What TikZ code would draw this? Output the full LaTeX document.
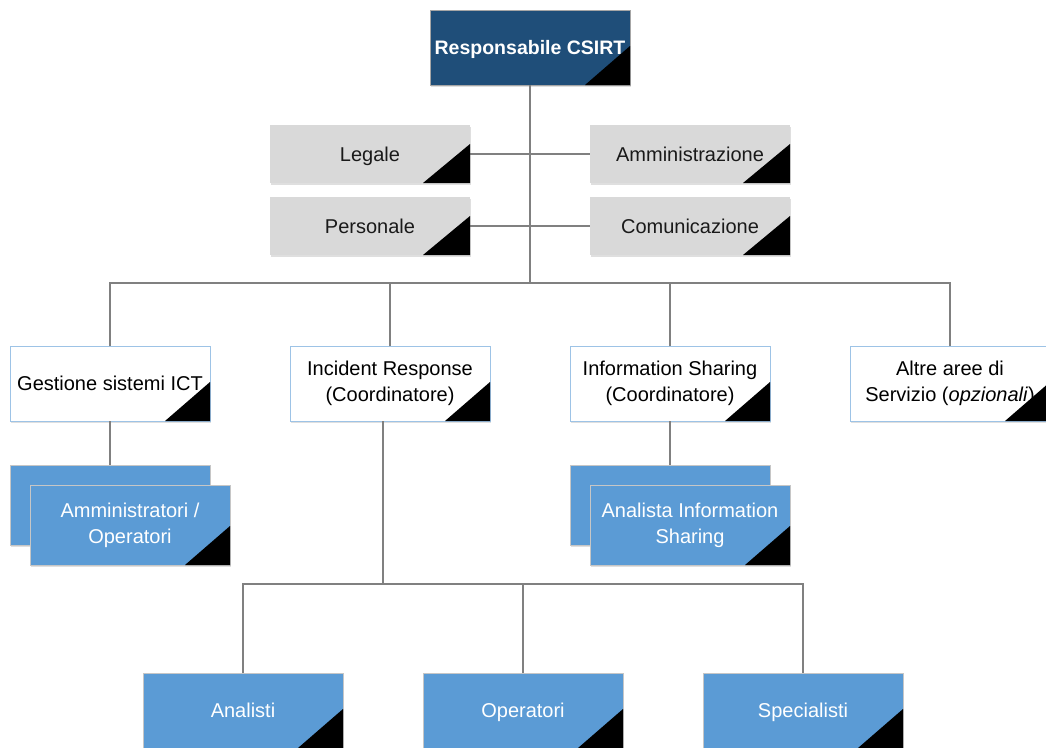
\documentclass[tikz,border=0pt]{standalone}
\usepackage{fontspec}
\setmainfont{Liberation Sans}
\usetikzlibrary{shadows}
\definecolor{navy}{HTML}{1F4E79}
\definecolor{midblue}{HTML}{5B9BD5}
\definecolor{paleblue}{HTML}{9DC3E6}
\definecolor{lightgray}{HTML}{D9D9D9}
\definecolor{wire}{HTML}{808080}
\definecolor{ink}{HTML}{1A1A1A}
\tikzset{
  unit/.style={rectangle, minimum width=200pt, inner sep=0pt, outer sep=0pt,
    align=center, font=\fontsize{20}{26}\selectfont,
    drop shadow={shadow xshift=1.2pt, shadow yshift=-1.8pt, opacity=0.25}},
  oneline/.style={text height=14.3pt, text depth=0pt},
  headbox/.style={unit, oneline, minimum height=75pt, fill=navy, draw=gray!70,
    line width=0.8pt, text=white, font=\fontsize{19.5}{26}\selectfont\bfseries},
  staffbox/.style={unit, oneline, minimum height=58pt, fill=lightgray, text=ink},
  areabox/.style={unit, minimum height=75pt, fill=white, draw=paleblue,
    line width=0.9pt, text=black},
  teambox/.style={unit, minimum height=80pt, fill=midblue, draw=gray!45,
    line width=0.6pt, text=white},
  rolebox/.style={unit, oneline, minimum height=75pt, fill=midblue, draw=gray!45,
    line width=0.6pt, text=white},
  link/.style={draw=wire, line width=1.7pt},
  corner/.style={fill=black}
}
\begin{document}
\begin{tikzpicture}[x=1pt, y=-1pt]
\clip (0,0) rectangle (1046,747);
\fill[white] (0,0) rectangle (1046,747);

% head of the team
\node[headbox] (head) at (530,47.5) {Responsabile CSIRT};

% staff functions
\node[staffbox] (legale) at (370,154) {Legale};
\node[staffbox] (ammin) at (690,154) {Amministrazione};
\node[staffbox] (pers) at (370,226) {Personale};
\node[staffbox] (comun) at (690,226) {Comunicazione};

% service areas
\node[areabox, oneline] (gest) at (110,383.5) {Gestione sistemi ICT};
\node[areabox] (inc) at (390,383.5) {Incident Response\\(Coordinatore)};
\node[areabox] (info) at (670,383.5) {Information Sharing\\(Coordinatore)};
\node[areabox] (altre) at (950,383.5) {Altre aree di\\Servizio (\textit{opzionali})};

% stacked teams
\node[teambox] (gestB) at (110,505) {};
\node[teambox] (gestF) at (130,525) {Amministratori /\\Operatori};
\node[teambox] (infoB) at (670,505) {};
\node[teambox] (infoF) at (690,525) {Analista Information\\Sharing};

% incident response roles
\node[rolebox] (anal) at (243,710.5) {Analisti};
\node[rolebox] (oper) at (523,710.5) {Operatori};
\node[rolebox] (spec) at (803,710.5) {Specialisti};

% junction points
\coordinate (bus) at (530,283);
\coordinate (irbus) at (383,584);

% connectors
\draw[link] (head.south) -- (bus);
\draw[link] (legale.east) -- (ammin.west);
\draw[link] (pers.east) -- (comun.west);
\draw[link] (gest.north) |- (bus) -| (altre.north);
\draw[link] (inc.north) -- (inc.north |- bus);
\draw[link] (info.north) -- (info.north |- bus);
\draw[link] (gest.south) -- (gestB.north);
\draw[link] (info.south) -- (infoB.north);
\draw[link] (inc.south -| irbus) -- (irbus);
\draw[link] (anal.north) |- (irbus) -| (spec.north);
\draw[link] (oper.north) -- (oper.north |- irbus);

% corner marks
\foreach \n in {head,gest,inc,info,altre,gestF,infoF,anal,oper,spec}
  \fill[corner] (\n.south east) -- ++(-45pt,0pt) -- ++(45pt,39pt) -- cycle;
\foreach \n in {legale,ammin,pers,comun}
  \fill[corner] (\n.south east) -- ++(-47pt,0pt) -- ++(47pt,39pt) -- cycle;
\end{tikzpicture}
\end{document}
